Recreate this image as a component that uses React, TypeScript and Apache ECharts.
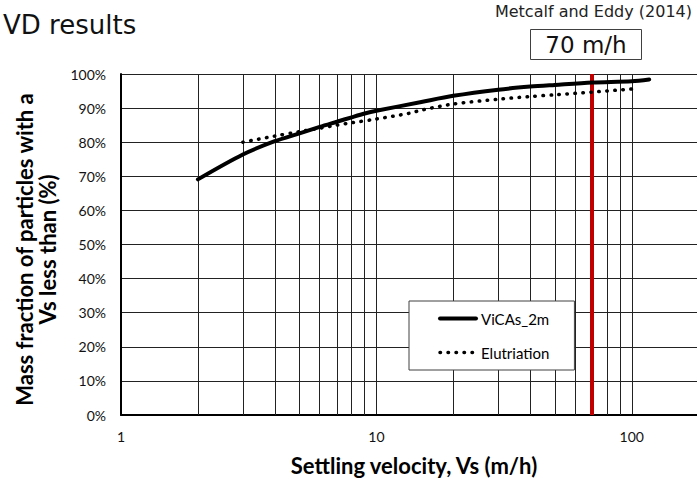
import React, { useEffect, useRef } from "react";
import * as echarts from "echarts";

const vicasX = [2, 3, 4, 5, 6, 7, 8, 9, 10, 15, 20, 30, 40, 50, 70, 100, 117];
const vicasY = [69.1, 76.4, 80.3, 82.6, 84.5, 86.0, 87.3, 88.4, 89.2, 91.8, 93.6, 95.4, 96.3, 96.8, 97.5, 97.9, 98.4];
const elutX = [3, 4, 5, 6, 7, 8, 10, 13.5, 15, 20, 30, 40, 50, 70, 100];
const elutY = [80.0, 81.8, 83.1, 84.1, 85.0, 85.7, 86.8, 88.5, 89.4, 91.2, 92.6, 93.4, 93.9, 94.7, 95.6];
const minorGrid = [2, 3, 4, 5, 6, 7, 8, 9, 20, 30, 40, 50, 60, 70, 80, 90];
const xTickLabels = [1, 10, 100];
const designVelocity = 70;
const seriesNames = ["ViCAs_2m", "Elutriation"];

export default function App() {
  const ref = useRef<HTMLDivElement>(null);
  useEffect(() => {
    if (!ref.current) return;
    const chart = echarts.init(ref.current, undefined, { renderer: "svg" });
    const gridColor = "#222";
    chart.setOption({
      animation: false,
      backgroundColor: "#fff",
      grid: { left: 121, top: 74, right: 0, height: 341, containLabel: false },
      xAxis: {
        type: "log",
        logBase: 10,
        min: 1,
        max: 180,
        axisLine: { show: true, onZero: false, lineStyle: { color: "#000", width: 2 } },
        axisTick: { show: false },
        splitLine: { show: true, lineStyle: { color: gridColor, width: 1 } },
        axisLabel: {
          margin: 14,
          fontFamily: "Lato",
          fontSize: 14,
          color: "#111",
          showMaxLabel: false,
          formatter: (v: number) => (xTickLabels.some((t) => Math.abs(t - v) < 1e-6) ? String(Math.round(v)) : ""),
        },
      },
      yAxis: {
        type: "value",
        min: 0,
        max: 100,
        interval: 10,
        name: "Mass fraction of particles with a\nVs less than (%)",
        nameLocation: "middle",
        nameRotate: 90,
        nameGap: 62,
        nameTextStyle: {
          fontFamily: "Lato",
          fontWeight: "bold",
          fontSize: 22,
          color: "#000",
          lineHeight: 23,
          padding: [0, 10, 0, 0],
        },
        axisLine: { show: true, lineStyle: { color: "#000", width: 2 } },
        axisTick: { show: false },
        splitLine: { show: true, lineStyle: { color: gridColor, width: 1 } },
        axisLabel: {
          margin: 15,
          fontFamily: "Lato",
          fontSize: 14,
          color: "#111",
          formatter: "{value}%",
        },
      },
      legend: {
        orient: "vertical",
        left: 409,
        top: 301,
        padding: [10, 25, 10, 29],
        itemWidth: 36,
        itemHeight: 14,
        itemGap: 19,
        backgroundColor: "#fff",
        borderColor: "#404040",
        borderWidth: 1,
        borderRadius: 0,
        textStyle: { fontFamily: "Lato", fontSize: 15, color: "#000" },
        itemStyle: { opacity: 0, borderWidth: 0 },
        data: [
          {
            name: seriesNames[0],
            itemStyle: { opacity: 0, borderWidth: 0 },
            lineStyle: { width: 4, color: "#000", cap: "round" },
          },
          {
            name: seriesNames[1],
            itemStyle: { opacity: 0, borderWidth: 0 },
            lineStyle: { width: 3.5, color: "#000", type: [0.5, 7.5], cap: "round" },
          },
        ],
      },
      series: [
        {
          name: seriesNames[0],
          type: "line",
          z: 4,
          data: vicasX.map((x, i) => [x, vicasY[i]]),
          smooth: 0.3,
          showSymbol: false,
          symbol: "none",
          lineStyle: { color: "#000", width: 4, cap: "round" },
          itemStyle: { color: "#000" },
          markLine: {
            silent: true,
            z: 1,
            symbol: ["none", "none"],
            label: { show: false },
            lineStyle: { color: gridColor, width: 1, type: "solid" },
            data: minorGrid.map((v) => ({ xAxis: v })),
          },
        },
        {
          name: seriesNames[1],
          type: "line",
          z: 4,
          data: elutX.map((x, i) => [x, elutY[i]]),
          smooth: 0.3,
          showSymbol: false,
          symbol: "none",
          lineStyle: { color: "#000", width: 3.5, type: [0.5, 7.5], cap: "round" },
          itemStyle: { color: "#000" },
          markLine: {
            silent: true,
            z: 2,
            symbol: ["none", "none"],
            label: { show: false },
            lineStyle: { color: "#c00000", width: 4, type: "solid" },
            data: [{ xAxis: designVelocity }],
          },
        },
      ],
      graphic: [
        {
          type: "text",
          left: 3,
          top: 12,
          style: { text: "VD results", fontFamily: "DejaVu Sans", fontSize: 26, fill: "#111" },
        },
        {
          type: "text",
          right: 5,
          top: 3,
          style: { text: "Metcalf and Eddy (2014)", fontFamily: "DejaVu Sans", fontSize: 16, fill: "#222" },
        },
        {
          type: "rect",
          shape: { x: 530.5, y: 29.5, width: 111, height: 30 },
          style: { fill: "#fff", stroke: "#404040", lineWidth: 1 },
        },
        {
          type: "text",
          x: 586,
          y: 45,
          style: {
            text: "70 m/h",
            fontFamily: "DejaVu Sans",
            fontSize: 23,
            fill: "#111",
            align: "center",
            verticalAlign: "middle",
          },
        },
        {
          type: "text",
          x: 414,
          y: 465,
          style: {
            text: "Settling velocity, Vs (m/h)",
            fontFamily: "Lato",
            fontWeight: "bold",
            fontSize: 22,
            fill: "#000",
            align: "center",
            verticalAlign: "middle",
          },
        },
      ],
    });
    return () => chart.dispose();
  }, []);
  return (
    <div
      ref={ref}
      style={{ position: "fixed", left: 0, top: 0, width: 697, height: 482, overflow: "hidden", background: "#fff" }}
    />
  );
}
